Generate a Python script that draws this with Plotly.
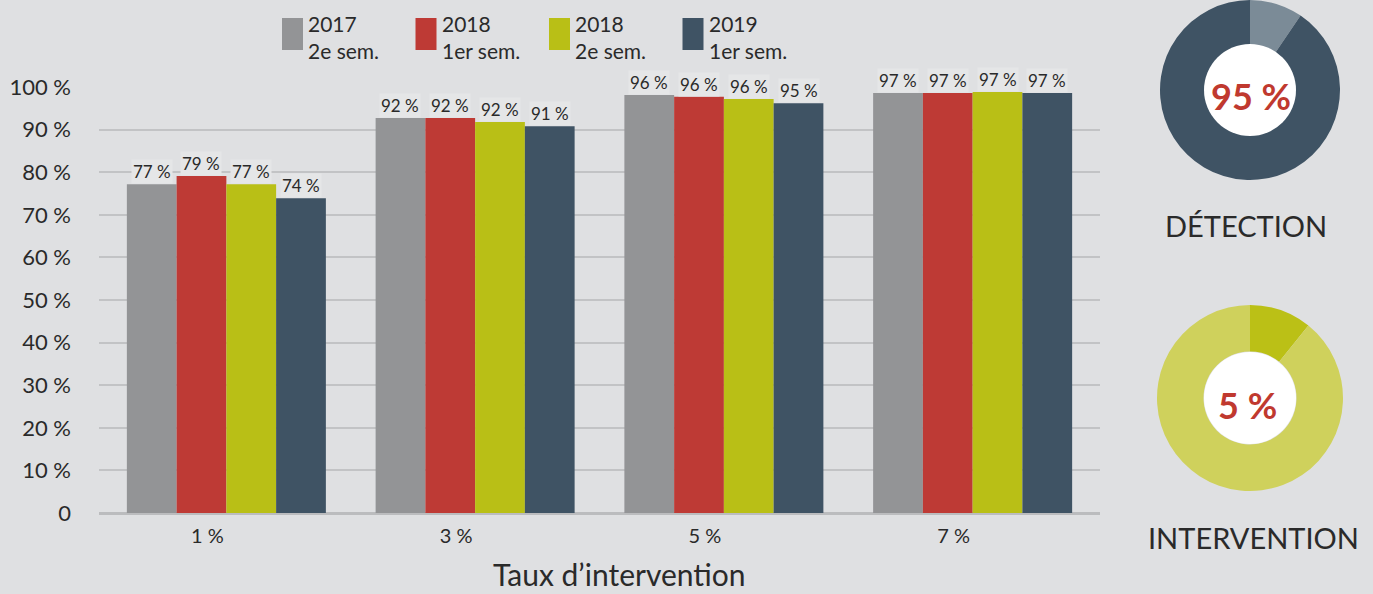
import plotly.graph_objects as go

W, H = 1373, 594

# ---------------- data ----------------
categories = ["1 %", "3 %", "5 %", "7 %"]
series_names = ["2017<br>2e sem.", "2018<br>1er sem.", "2018<br>2e sem.", "2019<br>1er sem."]
series_colors = ["#939496", "#be3a35", "#b9bf16", "#3f5364"]

val_2017_s2 = [77.2, 92.7, 98.1, 98.6]
val_2018_s1 = [79.1, 92.7, 97.7, 98.6]
val_2018_s2 = [77.2, 91.8, 97.2, 98.8]
val_2019_s1 = [73.9, 90.8, 96.2, 98.6]

lab_2017_s2 = ["77 %", "92 %", "96 %", "97 %"]
lab_2018_s1 = ["79 %", "92 %", "96 %", "97 %"]
lab_2018_s2 = ["77 %", "92 %", "96 %", "97 %"]
lab_2019_s1 = ["74 %", "91 %", "95 %", "97 %"]

series_values = [val_2017_s2, val_2018_s1, val_2018_s2, val_2019_s1]
series_labels = [lab_2017_s2, lab_2018_s1, lab_2018_s2, lab_2019_s1]

y_tickvals = [0, 10, 20, 30, 40, 50, 60, 70, 80, 90, 100]
y_ticktext = ["0", "10 %", "20 %", "30 %", "40 %", "50 %", "60 %", "70 %", "80 %", "90 %", "100 %"]

detection_values = [9.5, 90.5]       # light slice, dark slice
detection_colors = ["#7b8b97", "#3f5364"]
detection_text = "95 %"
intervention_values = [10.8, 89.2]   # dark olive slice, light olive slice
intervention_colors = ["#bbc016", "#cfd15c"]
intervention_text = "5 %"

BG = "#dfe0e2"
TXT = "#2a2a2a"
RED = "#c0392f"
FONT = "Lato, 'Open Sans', sans-serif"

# ---------------- figure ----------------
fig = go.Figure()
x_idx = list(range(len(categories)))
for name, col, vals in zip(series_names, series_colors, series_values):
    fig.add_trace(go.Bar(x=x_idx, y=vals, name=name, marker=dict(color=col, line=dict(width=0)),
                         showlegend=False, hoverinfo="skip"))

annotations = []

# value labels above bars
n = len(series_values)
bw = 0.8 / n
for j, (vals, labs) in enumerate(zip(series_values, series_labels)):
    for i, (v, t) in enumerate(zip(vals, labs)):
        annotations.append(dict(x=i + (j - (n - 1) / 2) * bw, y=v, xref="x", yref="y",
                                text=t, showarrow=False, xanchor="center", yanchor="bottom", yshift=0,
                                font=dict(family=FONT, size=17, color=TXT),
                                bgcolor="#e5e6e7", borderpad=1))


def px_x(p):
    return p / W


def px_y(p):
    return 1 - p / H


# donut charts
fig.add_trace(go.Pie(values=detection_values, marker=dict(colors=detection_colors, line=dict(width=0)),
                     hole=0.5, sort=False, direction="counterclockwise", rotation=0,
                     textinfo="none", hoverinfo="skip", showlegend=False, automargin=False,
                     domain=dict(x=[px_x(1160), px_x(1340)], y=[px_y(180), 1.0])))
fig.add_trace(go.Pie(values=intervention_values, marker=dict(colors=intervention_colors, line=dict(width=0)),
                     hole=0.5, sort=False, direction="clockwise", rotation=0,
                     textinfo="none", hoverinfo="skip", showlegend=False, automargin=False,
                     domain=dict(x=[px_x(1157), px_x(1343)], y=[px_y(491), px_y(305)])))

shapes = []
# white centres of donuts
for cx, cy, r in [(1250, 90, 46), (1250, 398, 46)]:
    shapes.append(dict(type="circle", xref="paper", yref="paper",
                       x0=px_x(cx - r), x1=px_x(cx + r), y0=px_y(cy + r), y1=px_y(cy - r),
                       fillcolor="white", line=dict(width=0), layer="above"))


def paper_text(x, y, text, size, color=TXT):
    annotations.append(dict(x=px_x(x), y=px_y(y), xref="paper", yref="paper", text=text,
                            showarrow=False, xanchor="center", yanchor="middle",
                            font=dict(family=FONT, size=size, color=color)))


paper_text(1251, 96, "<b>" + detection_text + "</b>", 36, RED)
paper_text(1247, 405, "<b>" + intervention_text + "</b>", 36, RED)
paper_text(1246, 225, "DÉTECTION", 29)
paper_text(1253, 537, "INTERVENTION", 29)
paper_text(619, 574, "Taux d’intervention", 30)

# custom legend
for k, (name, col) in enumerate(zip(series_names, series_colors)):
    x0 = 282 + 133.5 * k
    shapes.append(dict(type="rect", xref="paper", yref="paper",
                       x0=px_x(x0), x1=px_x(x0 + 21), y0=px_y(50), y1=px_y(18),
                       fillcolor=col, line=dict(width=0)))
    annotations.append(dict(x=px_x(x0 + 24), y=px_y(37), xref="paper", yref="paper", text=name,
                            showarrow=False, xanchor="left", yanchor="middle", align="left",
                            font=dict(family=FONT, size=21, color=TXT)))

fig.update_layout(
    width=W, height=H, autosize=False,
    margin=dict(l=0, r=0, t=0, b=0, pad=0, autoexpand=False),
    paper_bgcolor=BG, plot_bgcolor=BG,
    barmode="group", bargap=0.2, bargroupgap=0,
    font=dict(family=FONT, color=TXT),
    shapes=shapes, annotations=annotations,
    xaxis=dict(domain=[99 / W, 1100 / W], range=[-0.512, len(categories) - 0.488],
               tickvals=x_idx, ticktext=categories, showgrid=False, zeroline=False,
               showline=False, ticks="", ticklabelstandoff=9, ticklabelshift=-19,
               tickfont=dict(family=FONT, size=20, color=TXT), fixedrange=True),
    yaxis=dict(domain=[81 / H, 507 / H], range=[0, 100], tickvals=y_tickvals, ticktext=y_ticktext,
               showgrid=True, gridcolor="#c2c3c5", gridwidth=2,
               zeroline=True, zerolinecolor="#bbbcbe", zerolinewidth=3,
               showline=False, ticks="", ticklabelstandoff=27,
               tickfont=dict(family=FONT, size=22, color=TXT), fixedrange=True),
)

fig.write_html("out.html")
